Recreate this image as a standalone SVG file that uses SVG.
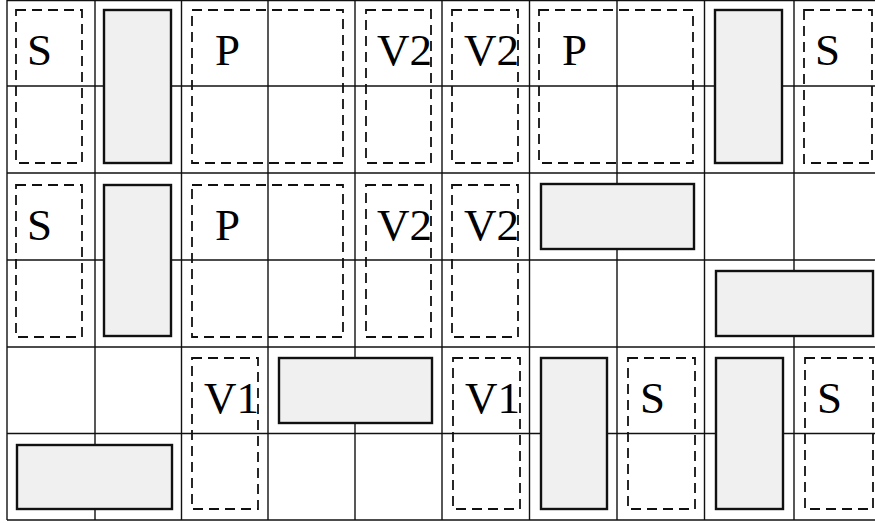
<svg xmlns="http://www.w3.org/2000/svg" width="875" height="523" viewBox="0 0 875 523">
<style>
.grid line{stroke:#111;stroke-width:1.4}
.dash{fill:none;stroke:#111;stroke-width:1.8;stroke-dasharray:10 6}
.block{fill:#f0f0f0;stroke:#111;stroke-width:2.4}
text{font-family:"Liberation Serif","Times New Roman",serif;font-size:45px;fill:#000}
</style>
<rect x="0" y="0" width="875" height="523" fill="#fff"/>
<g id="grid" class="grid">
<line x1="7" y1="0" x2="7" y2="520"/>
<line x1="95" y1="0" x2="95" y2="520"/>
<line x1="181.5" y1="0" x2="181.5" y2="520"/>
<line x1="268" y1="0" x2="268" y2="520"/>
<line x1="355" y1="0" x2="355" y2="520"/>
<line x1="442" y1="0" x2="442" y2="520"/>
<line x1="529.5" y1="0" x2="529.5" y2="520"/>
<line x1="617" y1="0" x2="617" y2="520"/>
<line x1="704.5" y1="0" x2="704.5" y2="520"/>
<line x1="794" y1="0" x2="794" y2="520"/>
<line x1="7" y1="0.5" x2="875" y2="0.5"/>
<line x1="7" y1="86" x2="875" y2="86"/>
<line x1="7" y1="173" x2="875" y2="173"/>
<line x1="7" y1="260" x2="875" y2="260"/>
<line x1="7" y1="347" x2="875" y2="347"/>
<line x1="7" y1="433.5" x2="875" y2="433.5"/>
<line x1="7" y1="520" x2="875" y2="520"/>
</g>
<g id="n-r0c0"><rect class="dash" x="16" y="10" width="66" height="153"/><text x="27" y="65">S</text></g>
<g id="n-r0c1"><rect class="block" x="104" y="10" width="67" height="153"/></g>
<g id="n-r0c2"><rect class="dash" x="192" y="10" width="151" height="153"/><text x="215" y="65">P</text></g>
<g id="n-r0c4"><rect class="dash" x="366" y="10" width="65" height="153"/><text x="377" y="65">V2</text></g>
<g id="n-r0c5"><rect class="dash" x="452" y="10" width="66" height="153"/><text x="464" y="65">V2</text></g>
<g id="n-r0c6"><rect class="dash" x="539" y="10" width="154" height="153"/><text x="562" y="65">P</text></g>
<g id="n-r0c8"><rect class="block" x="715" y="10" width="67" height="153"/></g>
<g id="n-r0c9"><rect class="dash" x="804" y="10" width="68" height="153"/><text x="815" y="65">S</text></g>

<g id="n-r2c0"><rect class="dash" x="16" y="185" width="66" height="152"/><text x="27" y="240">S</text></g>
<g id="n-r2c1"><rect class="block" x="104" y="185" width="67" height="151"/></g>
<g id="n-r2c2"><rect class="dash" x="192" y="185" width="151" height="152"/><text x="215" y="240">P</text></g>
<g id="n-r2c4"><rect class="dash" x="366" y="185" width="65" height="152"/><text x="377" y="240">V2</text></g>
<g id="n-r2c5"><rect class="dash" x="452" y="185" width="66" height="152"/><text x="464" y="240">V2</text></g>
<g id="n-r2c6"><rect class="block" x="541" y="184" width="153" height="65"/></g>
<g id="n-r3c8"><rect class="block" x="716" y="271" width="157" height="65"/></g>

<g id="n-r5c0"><rect class="block" x="17" y="445" width="155" height="64"/></g>
<g id="n-r4c2"><rect class="dash" x="192" y="358" width="66" height="151"/><text x="204" y="413">V1</text></g>
<g id="n-r4c3"><rect class="block" x="279" y="358" width="153" height="65"/></g>
<g id="n-r4c5"><rect class="dash" x="453" y="358" width="67" height="151"/><text x="465" y="413">V1</text></g>
<g id="n-r4c6"><rect class="block" x="541" y="358" width="66" height="151"/></g>
<g id="n-r4c7"><rect class="dash" x="628" y="358" width="67" height="151"/><text x="640" y="413">S</text></g>
<g id="n-r4c8"><rect class="block" x="716" y="358" width="67" height="151"/></g>
<g id="n-r4c9"><rect class="dash" x="805" y="358" width="68" height="151"/><text x="817" y="413">S</text></g>
</svg>
